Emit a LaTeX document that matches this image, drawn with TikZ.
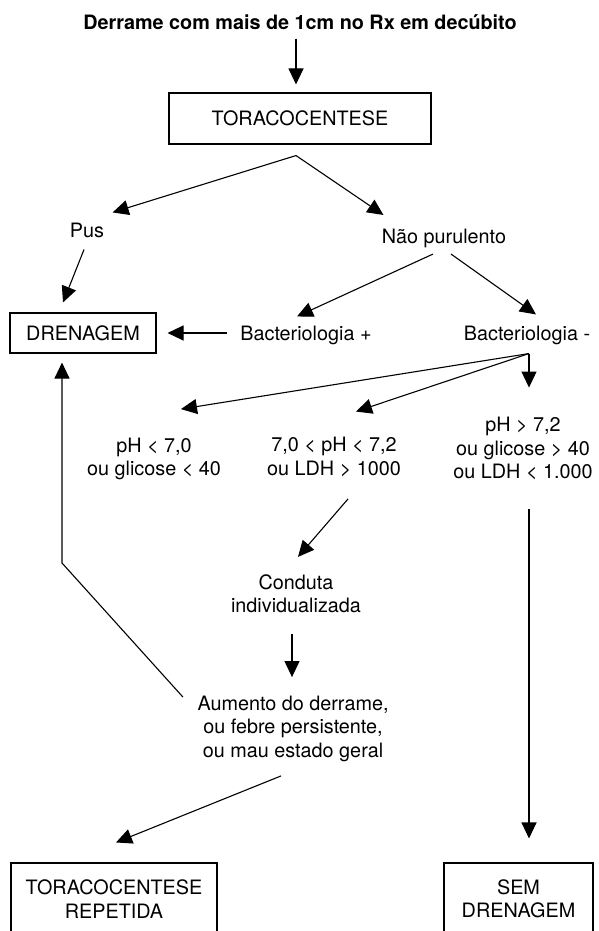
\documentclass[tikz,border=0pt]{standalone}
\usepackage{fontspec}
\setmainfont{TeX Gyre Heros}
\usepackage{tikz}
\usetikzlibrary{arrows.meta}
\newcommand*\fsz{\fontsize{19.8pt}{23.5pt}\selectfont}

\begin{document}
\begin{tikzpicture}[x=1pt,y=-1pt,line width=1.1pt,font=\fsz,
	lbl/.style={inner sep=0pt,text height=14pt,text depth=4pt},
	multi/.style={inner sep=0pt,align=center},
	box/.style={draw,inner sep=0pt,align=center},
	arr/.style={-{Triangle[length=16pt,width=15pt]}}]
\useasboundingbox (0,0) rectangle (599,931);

\node[lbl,font=\fsz\bfseries] (title) at (300,25) {Derrame com mais de 1cm no Rx em decúbito};
\node[box,minimum width=262pt,minimum height=51pt] (toraco) at (300,118.5) {TORACOCENTESE};
\node[lbl] (pus) at (87,232) {Pus};
\node[lbl] (nao) at (444,238.5) {Não purulento};
\node[box,minimum width=146pt,minimum height=40pt] (dren) at (83,333) {DRENAGEM};
\node[lbl] (bplus) at (306,335) {Bacteriologia +};
\node[lbl] (bminus) at (527,335) {Bacteriologia -};
\node[multi] (phlow) at (154,458.75) {pH < 7,0\\ou glicose < 40};
\node[multi] (phmid) at (334,456.75) {7,0 < pH < 7,2\\ou LDH > 1000};
\node[multi] (phhigh) at (523,448.5) {pH > 7,2\\ou glicose > 40\\ou LDH < 1.000};
\node[multi] (conduta) at (296,593.75) {Conduta\\individualizada};
\node[multi] (aumento) at (293,728.5) {Aumento do derrame,\\ou febre persistente,\\ou mau estado geral};
\node[box,minimum width=206pt,minimum height=72pt] (repet) at (114,899) {TORACOCENTESE\\REPETIDA};
\node[box,minimum width=149pt,minimum height=72pt] (sem) at (518.5,899) {SEM\\DRENAGEM};

\draw[arr] ([xshift=-4pt,yshift=-4pt]title.south) -- ([xshift=-4pt,yshift=8pt]toraco.north);
\draw[arr] ([xshift=-4pt,yshift=-11pt]toraco.south) -- ([xshift=8pt,yshift=10pt]pus.north east);
\draw[arr] ([xshift=-4pt,yshift=-11pt]toraco.south) -- ([xshift=2pt,yshift=14pt]nao.north west);
\draw[arr] ([xshift=-3pt,yshift=-8pt]pus.south) -- ([xshift=-20pt,yshift=10pt]dren.north);
\draw[arr] ([xshift=-11pt,yshift=-6pt]nao.south) -- ([xshift=-9pt,yshift=9pt]bplus.north);
\draw[arr] ([xshift=7pt,yshift=-6pt]nao.south) -- ([xshift=9pt,yshift=11pt]bminus.north);
\draw[arr] ([xshift=-13pt,yshift=2pt]bplus.west) -- ([xshift=11pt]dren.east);
% Bacteriologia - : three ways
\draw[arr] ([xshift=2pt,yshift=-9pt]bminus.south) -- ([xshift=27pt,yshift=28pt]phlow.north);
\draw[arr] ([xshift=2pt,yshift=-9pt]bminus.south) -- ([xshift=22pt,yshift=25pt]phmid.north);
\draw[arr] ([xshift=2pt,yshift=-9pt]bminus.south) -- ([xshift=6pt,yshift=29pt]phhigh.north);
\draw[arr] ([xshift=14pt,yshift=-22pt]phmid.south) -- ([xshift=2pt,yshift=17pt]conduta.north);
\draw[arr] ([xshift=-4pt,yshift=-20pt]conduta.south) -- ([xshift=-1pt,yshift=18pt]aumento.north);
% back to drainage
\coordinate (drenin) at ([xshift=-21pt,yshift=-9pt]dren.south);
\draw[arr] ([xshift=-14pt,yshift=-2pt]aumento.north west) -- (drenin |- 0,563) -- (drenin);
\draw[arr] ([xshift=-12pt,yshift=-14pt]aumento.south) -- ([xshift=2pt,yshift=20pt]repet.north);
\draw[arr] ([xshift=6pt,yshift=-29pt]phhigh.south) -- ([xshift=10.5pt,yshift=24pt]sem.north);
\end{tikzpicture}
\end{document}
